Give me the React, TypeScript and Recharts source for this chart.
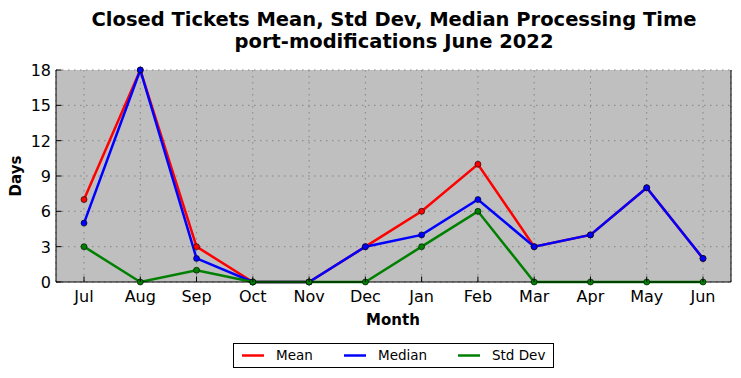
import React from 'react';
import { LineChart, Line, XAxis, YAxis, CartesianGrid } from 'recharts';

const months = ['Jul', 'Aug', 'Sep', 'Oct', 'Nov', 'Dec', 'Jan', 'Feb', 'Mar', 'Apr', 'May', 'Jun'];
const meanDays = [7, 18, 3, 0, 0, 3, 6, 10, 3, 4, 8, 2];
const medianDays = [5, 18, 2, 0, 0, 3, 4, 7, 3, 4, 8, 2];
const stdDevDays = [3, 0, 1, 0, 0, 0, 3, 6, 0, 0, 0, 0];
const yTicks = [0, 3, 6, 9, 12, 15, 18];

const titleLine1 = 'Closed Tickets Mean, Std Dev, Median Processing Time';
const titleLine2 = 'port-modifications June 2022';

const data = months.map((m, i) => ({
  month: m,
  mean: meanDays[i],
  median: medianDays[i],
  std: stdDevDays[i],
}));

const FONT = '"DejaVu Sans", sans-serif';
const TL = 5.5;
const XPAD = { left: 28, right: 28 };

const BottomTick = (props: any) => {
  const { x, y, payload } = props;
  return (
    <g>
      <line x1={x} y1={y} x2={x} y2={y - TL} stroke="#000" strokeWidth={1} />
      <text x={x} y={y + 20} textAnchor="middle" fontFamily={FONT} fontSize={16} fill="#000">
        {payload.value}
      </text>
    </g>
  );
};

const TopTick = (props: any) => {
  const { x, y } = props;
  return <line x1={x} y1={y} x2={x} y2={y + TL} stroke="#000" strokeWidth={1} />;
};

const LeftTick = (props: any) => {
  const { x, y, payload } = props;
  return (
    <g>
      <line x1={x} y1={y} x2={x + TL} y2={y} stroke="#000" strokeWidth={1} />
      <text x={x - 5} y={y + 6} textAnchor="end" fontFamily={FONT} fontSize={16} fill="#000">
        {payload.value}
      </text>
    </g>
  );
};

const RightTick = (props: any) => {
  const { x, y } = props;
  return <line x1={x} y1={y} x2={x - TL} y2={y} stroke="#000" strokeWidth={1} />;
};

const series = [
  { key: 'mean', name: 'Mean', color: '#ff0000' },
  { key: 'median', name: 'Median', color: '#0000ff' },
  { key: 'std', name: 'Std Dev', color: '#008000' },
];

export default function App() {
  return (
    <div style={{ position: 'absolute', left: 0, top: 0, width: 741, height: 378, background: '#fff' }}>
      <LineChart width={741} height={378} data={data} margin={{ top: 70, right: 0, bottom: 0, left: 0 }}>
        <CartesianGrid
          fill="#bfbfbf"
          stroke="#858585"
          strokeDasharray="1.5 4.5"
          strokeWidth={1}
          horizontalValues={yTicks}
        />
        <XAxis
          dataKey="month"
          height={96}
          padding={XPAD}
          tickSize={0}
          tickMargin={0}
          tickLine={false}
          axisLine={{ stroke: '#000', strokeWidth: 1 }}
          tick={<BottomTick />}
          interval={0}
        />
        <XAxis
          xAxisId="top"
          dataKey="month"
          orientation="top"
          height={0}
          padding={XPAD}
          tickSize={0}
          tickMargin={0}
          tickLine={false}
          axisLine={{ stroke: '#000', strokeWidth: 1 }}
          tick={<TopTick />}
          interval={0}
        />
        <YAxis
          width={56}
          domain={[0, 18]}
          ticks={yTicks}
          type="number"
          tickSize={0}
          tickMargin={0}
          tickLine={false}
          axisLine={{ stroke: '#000', strokeWidth: 1 }}
          tick={<LeftTick />}
          interval={0}
        />
        <YAxis
          yAxisId="right"
          orientation="right"
          width={10}
          domain={[0, 18]}
          ticks={yTicks}
          type="number"
          tickSize={0}
          tickMargin={0}
          tickLine={false}
          axisLine={{ stroke: '#000', strokeWidth: 1 }}
          tick={<RightTick />}
          interval={0}
        />
        {series.map((s) => (
          <Line
            key={s.key}
            type="linear"
            dataKey={s.key}
            name={s.name}
            stroke={s.color}
            strokeWidth={2.5}
            dot={{ r: 3, fill: s.color, stroke: '#000', strokeWidth: 0.6 }}
            isAnimationActive={false}
          />
        ))}
      </LineChart>
      <svg
        width={741}
        height={378}
        style={{ position: 'absolute', left: 0, top: 0, pointerEvents: 'none' }}
      >
        <text x={394} y={26} textAnchor="middle" fontFamily={FONT} fontWeight="bold" fontSize={19.5} fill="#000">
          {titleLine1}
        </text>
        <text x={394} y={48} textAnchor="middle" fontFamily={FONT} fontWeight="bold" fontSize={19.5} fill="#000">
          {titleLine2}
        </text>
        <text
          x={0}
          y={0}
          transform="translate(21,176) rotate(-90)"
          textAnchor="middle"
          fontFamily={FONT}
          fontWeight="bold"
          fontSize={15}
          fill="#000"
        >
          Days
        </text>
        <text x={393} y={325} textAnchor="middle" fontFamily={FONT} fontWeight="bold" fontSize={15} fill="#000">
          Month
        </text>
        <rect x={233.5} y={343.5} width={320} height={24} fill="#fff" stroke="#000" strokeWidth={1} />
        {series.map((s, i) => {
          const starts = [242, 344, 458];
          const x0 = starts[i];
          return (
            <g key={s.key}>
              <line x1={x0} y1={355.5} x2={x0 + 22} y2={355.5} stroke={s.color} strokeWidth={2.5} />
              <text x={x0 + 34} y={360} fontFamily={FONT} fontSize={13.5} fill="#000">
                {s.name}
              </text>
            </g>
          );
        })}
      </svg>
    </div>
  );
}
